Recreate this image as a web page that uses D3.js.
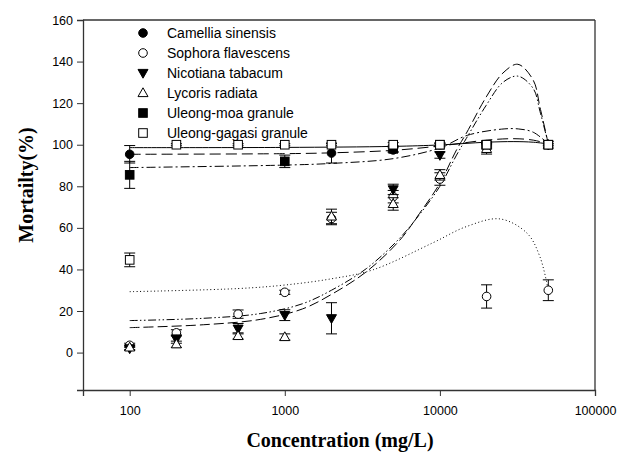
<!DOCTYPE html>
<html>
<head>
<meta charset="utf-8">
<script src="https://cdn.jsdelivr.net/npm/d3@7"></script>
<style>
  body { margin: 0; background: #fff; }
  svg { display: block; }
</style>
</head>
<body>
<svg id="chart" width="627" height="455"></svg>
<script>
// concentrations (mg/L)
const conc = [100, 200, 500, 1000, 2000, 5000, 10000, 20000, 50000];

// mortality means and error, null = no point
const camellia = [95.4, null, null, null, 96, 97.5, 100, 100, 100];
const camelliaErr = [4.2, null, null, null, 4.8, 1, 0.5, 0.5, 0];
const sophora = [3.5, 9.5, 18.5, 29, 64.5, 75, 83.5, 27, 30];
const sophoraErr = [1, 1.5, 2, 1, 3, 3, 3, 5.6, 5];
const nicotiana = [2, 6.5, 11.5, 18, 16.5, 78.5, 95, 99, 100];
const nicotianaErr = [1, 2, 2.5, 2.6, 7.5, 2.5, 1.5, 1, 0];
const lycoris = [2.5, 4, 8, 7.5, 65.5, 71.5, 85.5, 98, 100];
const lycorisErr = [1, 1.5, 1.5, 1.5, 3.5, 3, 2.5, 2.5, 0];
const moa = [85.5, null, null, 92, null, 98, 100, 100, 100];
const moaErr = [6.5, null, null, 3, null, 1.5, 0.5, 1, 0];
const gagasi = [44.6, 100, 100, 100, 100, 100, 100, 100, 100];
const gagasiErr = [3.3, 0.5, 0.5, 0.5, 0.5, 1, 1, 1.5, 0.5];

// fitted curves, points [conc, mortality]
const fitCamellia = [[100, 95.4], [1000, 95.7], [2000, 96.1], [5000, 97.3], [10000, 99.4], [20000, 102.2], [30000, 102.9], [40000, 102.2], [50000, 100.4]];
const fitSophora = [[100, 29.3], [500, 30.8], [1000, 32.5], [2000, 35.5], [3700, 39.8], [9000, 52.8], [14800, 60.6], [24400, 64.3], [36500, 57.4], [44200, 46], [50000, 30]];
const fitNicotiana = [[100, 15.4], [300, 16.5], [700, 18.8], [1300, 23.5], [2000, 30], [3370, 40.5], [5500, 55], [7400, 66.5], [10000, 80], [12800, 95], [14800, 103], [19900, 119], [25500, 130], [31800, 133], [40000, 127], [44200, 116], [50000, 100.4]];
const fitLycoris = [[100, 12], [300, 13.4], [700, 16], [1300, 21], [2000, 28], [3370, 39], [5500, 54], [7400, 67], [10000, 81.5], [12800, 97.5], [14800, 105.5], [19900, 123], [25500, 134.5], [31800, 138.7], [40000, 131], [44200, 118], [50000, 100.4]];
const fitMoa = [[100, 89], [1000, 90.2], [2000, 91], [5000, 93.3], [10000, 98.5], [15000, 104.5], [25000, 107.5], [32000, 107.6], [40000, 106], [50000, 100.4]];
const fitGagasi = [[100, 98.6], [1000, 98.7], [5000, 99.2], [10000, 99.9], [20000, 101.2], [30000, 101.5], [40000, 101.2], [50000, 100.4]];

const xTicks = [100, 1000, 10000, 100000];
const yTicks = [0, 20, 40, 60, 80, 100, 120, 140, 160];

const plotLeft = 83, plotRight = 595, plotTop = 20, plotBottom = 390;
const svg = d3.select("#chart");

const x = d3.scaleLog().domain([50, 100000]).range([plotLeft, plotRight]);
const y = d3.scaleLinear().domain([-18, 160]).range([plotBottom, plotTop]);

const series = [
  { name: "Camellia sinensis", vals: camellia, err: camelliaErr, fit: fitCamellia, sym: "circle", fill: "#000", dash: "11,5" },
  { name: "Sophora flavescens", vals: sophora, err: sophoraErr, fit: fitSophora, sym: "circle", fill: "#fff", dash: "1,2.5" },
  { name: "Nicotiana tabacum", vals: nicotiana, err: nicotianaErr, fit: fitNicotiana, sym: "tridown", fill: "#000", dash: "8,2.5,1.5,2.5,1.5,2.5" },
  { name: "Lycoris radiata", vals: lycoris, err: lycorisErr, fit: fitLycoris, sym: "triup", fill: "#fff", dash: "10,4" },
  { name: "Uleong-moa granule", vals: moa, err: moaErr, fit: fitMoa, sym: "square", fill: "#000", dash: "9,3,2,3" },
  { name: "Uleong-gagasi granule", vals: gagasi, err: gagasiErr, fit: fitGagasi, sym: "square", fill: "#fff", dash: null }
];

function drawSymbol(g, sym, cx, cy, fill) {
  if (sym === "circle") {
    g.append("circle").attr("cx", cx).attr("cy", cy).attr("r", 4.3)
      .attr("fill", fill).attr("stroke", "#000").attr("stroke-width", 1);
  } else if (sym === "square") {
    g.append("rect").attr("x", cx - 4.3).attr("y", cy - 4.3).attr("width", 8.6).attr("height", 8.6)
      .attr("fill", fill).attr("stroke", "#000").attr("stroke-width", 1);
  } else if (sym === "triup") {
    g.append("path").attr("d", `M${cx},${cy - 5.2}L${cx + 5},${cy + 3.6}L${cx - 5},${cy + 3.6}Z`)
      .attr("fill", fill).attr("stroke", "#000").attr("stroke-width", 1);
  } else {
    g.append("path").attr("d", `M${cx},${cy + 5.2}L${cx + 5},${cy - 3.6}L${cx - 5},${cy - 3.6}Z`)
      .attr("fill", fill).attr("stroke", "#000").attr("stroke-width", 1);
  }
}

// fit curves
const line = d3.line()
  .x(d => x(d[0]))
  .y(d => y(d[1]))
  .curve(d3.curveCatmullRom.alpha(0.5));

series.forEach(s => {
  svg.append("path")
    .attr("d", line(s.fit))
    .attr("fill", "none")
    .attr("stroke", "#000")
    .attr("stroke-width", 1)
    .attr("stroke-dasharray", s.dash);
});

// error bars + points
const capW = 5.5;
series.forEach(s => {
  const g = svg.append("g");
  conc.forEach((c, i) => {
    const v = s.vals[i];
    if (v == null) return;
    const e = s.err[i] || 0;
    const cx = x(c);
    if (e > 0) {
      g.append("line").attr("x1", cx).attr("x2", cx).attr("y1", y(v + e)).attr("y2", y(v - e))
        .attr("stroke", "#000").attr("stroke-width", 1);
      [v + e, v - e].forEach(t => {
        g.append("line").attr("x1", cx - capW).attr("x2", cx + capW).attr("y1", y(t)).attr("y2", y(t))
          .attr("stroke", "#000").attr("stroke-width", 1);
      });
    }
    drawSymbol(g, s.sym, cx, y(v), s.fill);
  });
});

// frame
svg.append("line").attr("x1", plotLeft).attr("x2", plotRight).attr("y1", plotTop).attr("y2", plotTop)
  .attr("stroke", "#333").attr("stroke-width", 1.3);
svg.append("line").attr("x1", plotRight).attr("x2", plotRight).attr("y1", plotTop).attr("y2", plotBottom)
  .attr("stroke", "#333").attr("stroke-width", 1.3);

// axes
const xAxis = svg.append("g")
  .attr("transform", `translate(0,${plotBottom})`)
  .call(d3.axisBottom(x).tickValues(xTicks).tickFormat(d3.format("d")).tickSizeOuter(0).tickSize(6).tickPadding(10));
const yAxis = svg.append("g")
  .attr("transform", `translate(${plotLeft},0)`)
  .call(d3.axisLeft(y).tickValues(yTicks).tickSizeOuter(0).tickSize(6).tickPadding(4));

[xAxis, yAxis].forEach(a => {
  a.select(".domain").attr("stroke", "#333").attr("stroke-width", 1.3);
  a.selectAll(".tick line").attr("stroke", "#333").attr("stroke-width", 1);
  a.selectAll(".tick text").attr("fill", "#000")
    .style("font-family", "'Liberation Sans', Arial, sans-serif").style("font-size", "12.5px");
});

// axis titles
svg.append("text")
  .attr("x", 340).attr("y", 447)
  .attr("text-anchor", "middle")
  .style("font-family", "'Liberation Serif', 'Times New Roman', serif")
  .style("font-weight", "bold").style("font-size", "20px")
  .text("Concentration (mg/L)");

svg.append("text")
  .attr("transform", "translate(33,185) rotate(-90)")
  .attr("text-anchor", "middle")
  .style("font-family", "'Liberation Serif', 'Times New Roman', serif")
  .style("font-weight", "bold").style("font-size", "20px")
  .text("Mortailty(%)");

// legend
const legend = svg.append("g");
series.forEach((s, i) => {
  const ly = 33 + i * 20;
  drawSymbol(legend, s.sym, 143, ly, s.fill);
  legend.append("text")
    .attr("x", 167).attr("y", ly + 5)
    .style("font-family", "'Liberation Sans', Arial, sans-serif")
    .style("font-size", "14px")
    .text(s.name);
});
</script>
</body>
</html>
